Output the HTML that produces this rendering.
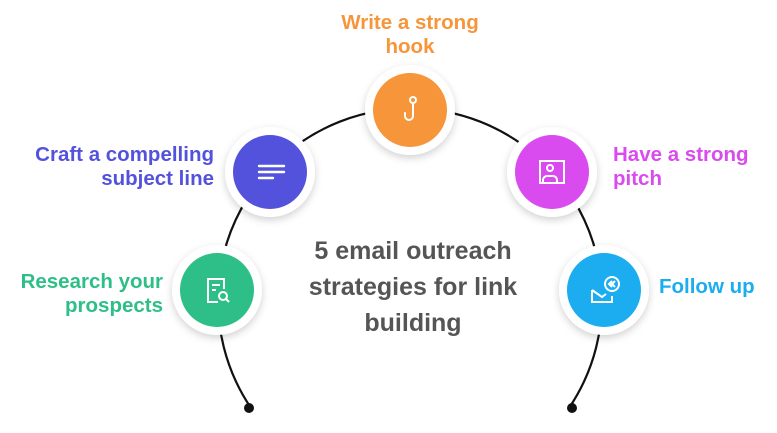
<!DOCTYPE html>
<html><head><meta charset="utf-8"><style>
html,body{margin:0;padding:0;background:#fff;}
body{width:777px;height:428px;overflow:hidden;font-family:"Liberation Sans",sans-serif;}
</style></head><body>
<svg width="777" height="428" viewBox="0 0 777 428" xmlns="http://www.w3.org/2000/svg">
<defs>
<filter id="sh" x="-30%" y="-30%" width="160%" height="160%">
<feDropShadow dx="0" dy="3" stdDeviation="4" flood-color="#000" flood-opacity="0.18"/>
</filter>
</defs>
<path d="M251 408 A192 192 0 1 1 569 408" fill="none" stroke="#111" stroke-width="2.2"/>
<circle cx="249" cy="408" r="5" fill="#111"/>
<circle cx="572" cy="408" r="5" fill="#111"/>
<g filter="url(#sh)">
<circle cx="410" cy="110" r="45" fill="#fff"/>
<circle cx="270" cy="172" r="45" fill="#fff"/>
<circle cx="552" cy="172" r="45" fill="#fff"/>
<circle cx="217" cy="290" r="45" fill="#fff"/>
<circle cx="604" cy="290" r="45" fill="#fff"/>
</g>
<circle cx="410" cy="110" r="37" fill="#F7953A"/>
<circle cx="270" cy="172" r="37" fill="#5352DD"/>
<circle cx="552" cy="172" r="37" fill="#DA4BEF"/>
<circle cx="217" cy="290" r="37" fill="#2EBF88"/>
<circle cx="604" cy="290" r="37" fill="#1BADEF"/>
<g fill="none" stroke="#fff" stroke-width="2" stroke-linecap="round">
<circle cx="413" cy="100" r="3"/>
<path d="M413 103 V116 a4 4 0 0 1 -8 0 V113"/>
</g>
<g stroke="#fff" stroke-width="2.4" stroke-linecap="round">
<line x1="259" y1="166" x2="284" y2="166"/>
<line x1="259" y1="172" x2="284" y2="172"/>
<line x1="259" y1="178" x2="273" y2="178"/>
</g>
<g fill="none" stroke="#fff" stroke-width="2">
<rect x="540" y="161" width="24" height="22"/>
<circle cx="550" cy="168" r="3"/>
<path d="M543 183 v-3 a4 4 0 0 1 4 -4 h6 a4 4 0 0 1 4 4 v3"/>
</g>
<g fill="none" stroke="#fff" stroke-width="2">
<path d="M218 302 h-10 v-23 h16 v10"/>
<line x1="212" y1="285" x2="220" y2="285"/>
<line x1="212" y1="290" x2="216" y2="290"/>
<circle cx="223" cy="296" r="4"/>
<line x1="226" y1="299" x2="229" y2="302"/>
</g>
<g fill="none" stroke="#fff" stroke-width="2">
<path d="M592 290 v12 h20 v-6"/>
<path d="M592 290 l10 7 l4 -3"/>
<circle cx="612" cy="284" r="7"/>
<path d="M612 281 l-3 3 l3 3 M615 281 l-3 3 l3 3"/>
</g>
<g font-weight="bold" font-size="20.5">
<text x="410" y="29" text-anchor="middle" fill="#F7953A">Write a strong</text>
<text x="410" y="53" text-anchor="middle" fill="#F7953A">hook</text>
<text x="214" y="161" text-anchor="end" fill="#5352DD">Craft a compelling</text>
<text x="214" y="185" text-anchor="end" fill="#5352DD">subject line</text>
<text x="613" y="161" fill="#DA4BEF">Have a strong</text>
<text x="613" y="185" fill="#DA4BEF">pitch</text>
<text x="163" y="288" text-anchor="end" fill="#2EBF88">Research your</text>
<text x="163" y="312" text-anchor="end" fill="#2EBF88">prospects</text>
<text x="659" y="293" fill="#1BADEF">Follow up</text>
</g>
<g font-weight="bold" font-size="25" fill="#555" text-anchor="middle">
<text x="413" y="259">5 email outreach</text>
<text x="413" y="295">strategies for link</text>
<text x="413" y="331">building</text>
</g>
</svg>
</body></html>
